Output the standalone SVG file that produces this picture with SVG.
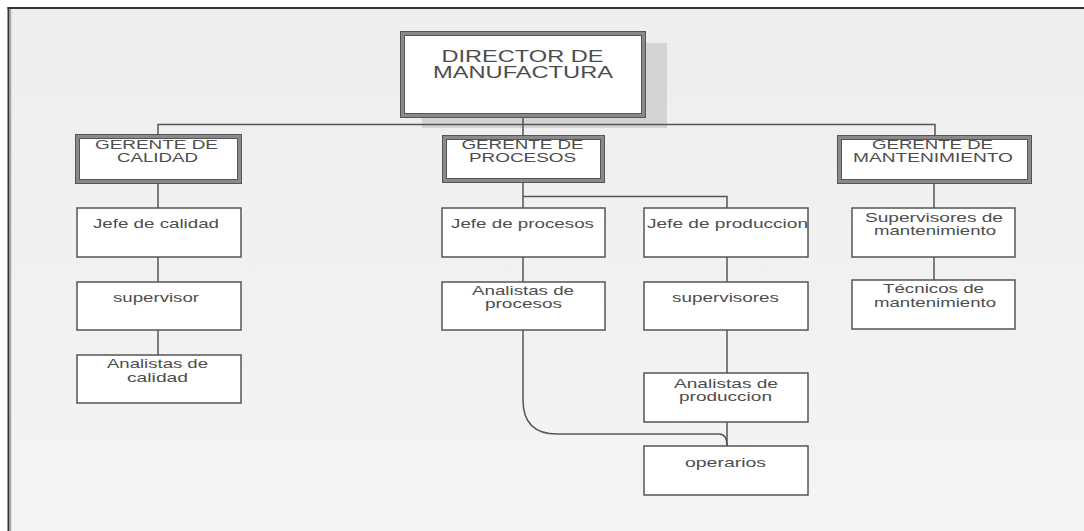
<svg xmlns="http://www.w3.org/2000/svg" width="1084" height="531" viewBox="0 0 1084 531">
<defs>
<linearGradient id="bg" x1="0" y1="0" x2="0" y2="1">
<stop offset="0" stop-color="#eeeeee"/>
<stop offset="1" stop-color="#f4f4f4"/>
</linearGradient>
<style>
.t{font-family:"Liberation Sans",Arial,sans-serif;font-size:13px;fill:#4d4d4d;text-anchor:middle;}
.g{font-size:12px;}
.big{font-size:16px;}
.box{fill:#ffffff;stroke:#555555;stroke-width:1.5;}
.dbl{fill:#ffffff;stroke:#8a8a8a;stroke-width:4;}
.dln{fill:none;stroke:#555555;stroke-width:1;}
.c{fill:none;stroke:#555555;stroke-width:1.5;}
</style>
</defs>
<rect x="0" y="0" width="1084" height="531" fill="#ffffff"/>
<rect x="9" y="8" width="1075" height="523" fill="url(#bg)"/>
<line x1="8.5" y1="7" x2="8.5" y2="531" stroke="#333" stroke-width="2"/>
<line x1="7.5" y1="8" x2="1084" y2="8" stroke="#333" stroke-width="2"/>
<line x1="10.5" y1="9" x2="10.5" y2="531" stroke="#aaa" stroke-width="1.5"/>
<rect x="422" y="43" width="245" height="85" fill="#d4d4d4"/>
<g id="connectors">
<path class="c" d="M523 117 V135"/>
<path class="c" d="M158 135 V124.5 H935 V135"/>
<path class="c" d="M158 184 V208 M158 257 V282 M158 330 V355"/>
<path class="c" d="M523 183 V208 M523 196.5 H727 V208"/>
<path class="c" d="M523 257 V282 M727 257 V282 M727 330 V373 M727 422 V446"/>
<path class="c" d="M523 330 V400 Q523 434 557 434 H719 Q727 434 727 446"/>
<path class="c" d="M934 184 V208 M934 257 V280"/>
</g>
<g id="director">
<rect class="dbl" x="402" y="33" width="242" height="83"/>
<rect class="dln" x="400.5" y="31.5" width="245" height="86"/>
<rect class="dln" x="404.5" y="35.5" width="237" height="78"/>
<text class="t big" x="522.5" y="62" textLength="162" lengthAdjust="spacingAndGlyphs">DIRECTOR DE</text>
<text class="t big" x="523" y="78" textLength="180" lengthAdjust="spacingAndGlyphs">MANUFACTURA</text>
</g>
<g id="gerente-calidad">
<rect class="dbl" x="77" y="136" width="163" height="46"/>
<rect class="dln" x="75.5" y="134.5" width="166" height="49"/>
<rect class="dln" x="79.5" y="138.5" width="158" height="41"/>
<text class="t g" x="156.5" y="149" textLength="123" lengthAdjust="spacingAndGlyphs">GERENTE DE</text>
<text class="t g" x="157.5" y="162" textLength="81" lengthAdjust="spacingAndGlyphs">CALIDAD</text>
</g>
<g id="gerente-procesos">
<rect class="dbl" x="444" y="137" width="159" height="44"/>
<rect class="dln" x="442.5" y="135.5" width="162" height="47"/>
<rect class="dln" x="446.5" y="139.5" width="154" height="39"/>
<text class="t g" x="522.5" y="149" textLength="122" lengthAdjust="spacingAndGlyphs">GERENTE DE</text>
<text class="t g" x="522.5" y="162" textLength="107" lengthAdjust="spacingAndGlyphs">PROCESOS</text>
</g>
<g id="gerente-mantenimiento">
<rect class="dbl" x="839" y="137" width="191" height="45"/>
<rect class="dln" x="837.5" y="135.5" width="194" height="48"/>
<rect class="dln" x="841.5" y="139.5" width="186" height="40"/>
<text class="t g" x="932.5" y="149" textLength="121" lengthAdjust="spacingAndGlyphs">GERENTE DE</text>
<text class="t g" x="933" y="162" textLength="160" lengthAdjust="spacingAndGlyphs">MANTENIMIENTO</text>
</g>
<g id="jefe-calidad">
<rect class="box" x="77" y="208" width="164" height="49"/>
<text class="t" x="156" y="228" textLength="126" lengthAdjust="spacingAndGlyphs">Jefe de calidad</text>
</g>
<g id="supervisor">
<rect class="box" x="77" y="282" width="164" height="48"/>
<text class="t" x="156" y="302" textLength="86" lengthAdjust="spacingAndGlyphs">supervisor</text>
</g>
<g id="analistas-calidad">
<rect class="box" x="77" y="355" width="164" height="48"/>
<text class="t" x="157.5" y="368" textLength="101" lengthAdjust="spacingAndGlyphs">Analistas de</text>
<text class="t" x="157.5" y="382" textLength="61" lengthAdjust="spacingAndGlyphs">calidad</text>
</g>
<g id="jefe-procesos">
<rect class="box" x="442" y="208" width="163" height="49"/>
<text class="t" x="522.5" y="228" textLength="143" lengthAdjust="spacingAndGlyphs">Jefe de procesos</text>
</g>
<g id="analistas-procesos">
<rect class="box" x="442" y="282" width="163" height="48"/>
<text class="t" x="523" y="295" textLength="102" lengthAdjust="spacingAndGlyphs">Analistas de</text>
<text class="t" x="523.5" y="308" textLength="77" lengthAdjust="spacingAndGlyphs">procesos</text>
</g>
<g id="jefe-produccion">
<rect class="box" x="644" y="208" width="164" height="49"/>
<text class="t" x="727.5" y="228" textLength="161" lengthAdjust="spacingAndGlyphs">Jefe de produccion</text>
</g>
<g id="supervisores">
<rect class="box" x="644" y="282" width="164" height="48"/>
<text class="t" x="725.5" y="302" textLength="107" lengthAdjust="spacingAndGlyphs">supervisores</text>
</g>
<g id="analistas-produccion">
<rect class="box" x="644" y="373" width="164" height="49"/>
<text class="t" x="726" y="388" textLength="104" lengthAdjust="spacingAndGlyphs">Analistas de</text>
<text class="t" x="725.5" y="401" textLength="93" lengthAdjust="spacingAndGlyphs">produccion</text>
</g>
<g id="operarios">
<rect class="box" x="644" y="446" width="164" height="49"/>
<text class="t" x="725.5" y="467" textLength="81" lengthAdjust="spacingAndGlyphs">operarios</text>
</g>
<g id="supervisores-mantenimiento">
<rect class="box" x="852" y="208" width="163" height="49"/>
<text class="t" x="934" y="222" textLength="138" lengthAdjust="spacingAndGlyphs">Supervisores de</text>
<text class="t" x="935" y="235" textLength="122" lengthAdjust="spacingAndGlyphs">mantenimiento</text>
</g>
<g id="tecnicos-mantenimiento">
<rect class="box" x="852" y="280" width="163" height="49"/>
<text class="t" x="933.5" y="293" textLength="101" lengthAdjust="spacingAndGlyphs">Técnicos de</text>
<text class="t" x="935" y="307" textLength="122" lengthAdjust="spacingAndGlyphs">mantenimiento</text>
</g>
</svg>
